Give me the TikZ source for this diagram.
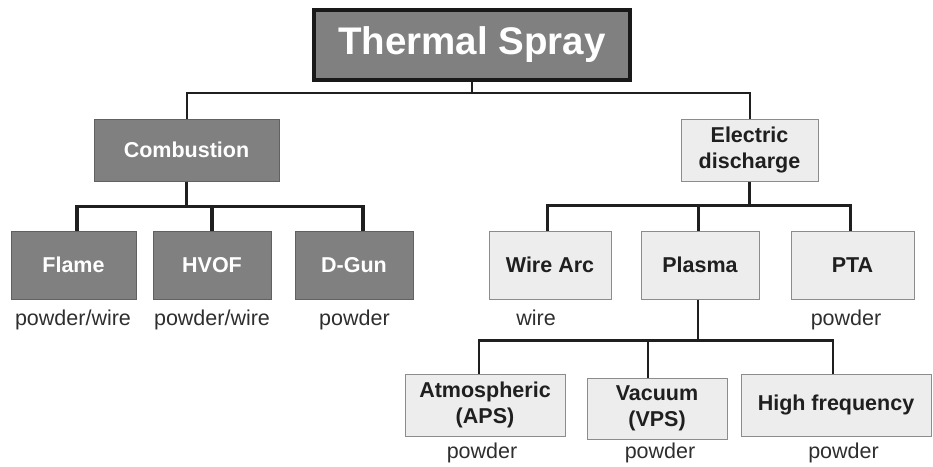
\documentclass[tikz,border=0pt]{standalone}
\usepackage{fontspec}
\setmainfont{Liberation Sans}
\begin{document}
\begin{tikzpicture}[x=1pt,y=-1pt,
  basebox/.style={rectangle, inner sep=0pt, align=center, line width=1pt,
    font=\bfseries\fontsize{21.5}{26}\selectfont},
  darkbox/.style={basebox, draw=black!62, fill=black!50, text=white},
  lightbox/.style={basebox, draw=black!45, fill=black!7, text=black!88},
  titlebox/.style={rectangle, inner sep=0pt, draw=black!90, line width=4pt,
    fill=black!50, text=white, font=\bfseries\fontsize{38.5}{46}\selectfont},
  lbl/.style={anchor=base, inner sep=0pt, text=black!82,
    font=\fontsize{21.5}{26}\selectfont},
  conn/.style={draw=black!88, line join=miter}
]
\useasboundingbox (0,0) rectangle (933,466);

% nodes
\node[titlebox, minimum width=316pt, minimum height=70pt] (title) at (472,45) {Thermal Spray};

\node[darkbox, minimum width=185pt, minimum height=62pt] (comb) at (186.5,150) {Combustion};
\node[lightbox, minimum width=137pt, minimum height=62pt] (elec) at (749.5,150) {Electric\\discharge};

\node[darkbox, minimum width=125pt, minimum height=68pt] (flame) at (73.5,265) {Flame};
\node[darkbox, minimum width=118pt, minimum height=68pt] (hvof) at (212,265) {HVOF};
\node[darkbox, minimum width=118pt, minimum height=68pt] (dgun) at (354,265) {D-Gun};

\node[lightbox, minimum width=122pt, minimum height=68pt] (wire) at (550,265) {Wire Arc};
\node[lightbox, minimum width=118pt, minimum height=68pt] (plasma) at (700,265) {Plasma};
\node[lightbox, minimum width=123pt, minimum height=68pt] (pta) at (852.5,265) {PTA};

\node[lightbox, minimum width=160pt, minimum height=62pt] (atm) at (485,405) {Atmospheric\\(APS)};
\node[lightbox, minimum width=140pt, minimum height=61pt] (vac) at (657,408.5) {Vacuum\\(VPS)};
\node[lightbox, minimum width=190pt, minimum height=62pt] (hf) at (836,405) {High frequency};

% labels
\node[lbl] (lflame) at (73,325) {powder/wire};
\node[lbl] (lhvof) at (212,325) {powder/wire};
\node[lbl] (ldgun) at (354.5,325) {powder};
\node[lbl] (lwire) at (536,325) {wire};
\node[lbl] (lpta) at (846,325) {powder};
\node[lbl] (latm) at (482,458) {powder};
\node[lbl] (lvac) at (660,458) {powder};
\node[lbl] (lhf) at (843.5,458) {powder};

% connectors: top
\draw[conn, line width=2pt] (title.south) -- ++(0,11) coordinate (tj);
\draw[conn, line width=2pt] (comb.north) |- (tj) -| (elec.north);

% combustion
\draw[conn, line width=3.5pt] (comb.south) -- ++(0,25) coordinate (cj);
\draw[conn, line width=3.5pt] ([xshift=3.5pt]flame.north) |- (cj) -| ([xshift=9pt]dgun.north);
\draw[conn, line width=3.5pt] (hvof.north) -- (hvof.north |- cj);

% electric discharge
\draw[conn, line width=3pt] (elec.south) -- ++(0,24) coordinate (ej);
\draw[conn, line width=3pt] ([xshift=-3pt]wire.north) |- (ej) -| ([xshift=-2.5pt]pta.north);
\draw[conn, line width=3pt] ([xshift=-2pt]plasma.north) -- ([xshift=-2pt]plasma.north |- ej);

% plasma
\draw[conn, line width=2.5pt] ([xshift=-2pt]plasma.south) -- ++(0,41) coordinate (pj);
\draw[conn, line width=2.5pt] ([xshift=-6pt]atm.north) |- (pj) -| ([xshift=-3pt]hf.north);
\draw[conn, line width=2.5pt] ([xshift=-9pt]vac.north) -- ([xshift=-9pt]vac.north |- pj);
\end{tikzpicture}
\end{document}
